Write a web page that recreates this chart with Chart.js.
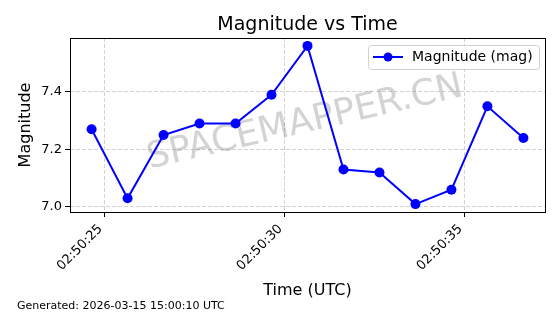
<!DOCTYPE html>
<html>
<head>
<meta charset="utf-8">
<script src="https://cdn.jsdelivr.net/npm/chart.js@4/dist/chart.umd.min.js"></script>
<style>
  html, body { margin: 0; padding: 0; background: #fff; }
  #wrap { width: 560px; height: 314px; position: relative; }
</style>
</head>
<body>
<div id="wrap"><canvas id="c" width="560" height="314"></canvas></div>
<script>
// Seconds past 02:50:00 UTC for each observation
const timeSeconds = [24.64, 25.64, 26.64, 27.64, 28.64, 29.64, 30.64, 31.64, 32.64, 33.64, 34.64, 35.64, 36.64];
const magnitudes  = [7.27, 7.03, 7.25, 7.29, 7.29, 7.39, 7.56, 7.13, 7.12, 7.01, 7.06, 7.35, 7.24];
const xTickValues = [25, 30, 35];
const xTickLabels = ['02:50:25', '02:50:30', '02:50:35'];
const yTickValues = [7.0, 7.2, 7.4];
const titleText = 'Magnitude vs Time';
const xTitle = 'Time (UTC)';
const yTitle = 'Magnitude';
const seriesLabel = 'Magnitude (mag)';
const footerText = 'Generated: 2026-03-15 15:00:10 UTC';
const watermarkText = 'SPACEMAPPER.CN';

const FONT = '"DejaVu Sans", sans-serif';
const points = timeSeconds.map((t, i) => ({ x: t, y: magnitudes[i] }));

function margins(arr) {
  const lo = Math.min(...arr), hi = Math.max(...arr), r = hi - lo;
  return [lo - 0.05 * r, hi + 0.05 * r];
}
const [xMin, xMax] = margins(timeSeconds);
const [yMin, yMax] = margins(magnitudes);

const decor = {
  id: 'decor',
  beforeDatasetsDraw(chart) {
    const ctx = chart.ctx;
    const a = chart.chartArea;
    // watermark
    ctx.save();
    ctx.beginPath();
    ctx.rect(a.left, a.top, a.right - a.left, a.bottom - a.top);
    ctx.clip();
    ctx.translate(305, 123);
    ctx.rotate(-13 * Math.PI / 180);
    ctx.font = '36px ' + FONT;
    ctx.fillStyle = 'rgba(128,128,128,0.35)';
    ctx.textAlign = 'center';
    ctx.textBaseline = 'middle';
    ctx.fillText(watermarkText, 0, 0);
    ctx.restore();
  },
  afterDraw(chart) {
    const ctx = chart.ctx;
    const a = chart.chartArea;
    const xs = chart.scales.x;
    ctx.save();
    // frame
    ctx.strokeStyle = '#000';
    ctx.lineWidth = 1;
    ctx.strokeRect(Math.round(a.left) + 0.5, Math.round(a.top) + 0.5,
                   Math.round(a.right - a.left), Math.round(a.bottom - a.top));
    // x tick labels (rotated, right-anchored at the tick)
    ctx.fillStyle = '#000';
    ctx.font = '13px ' + FONT;
    ctx.textAlign = 'right';
    ctx.textBaseline = 'middle';
    xTickValues.forEach((v, i) => {
      const px = xs.getPixelForValue(v);
      ctx.save();
      ctx.translate(px - 4, a.bottom + 15);
      ctx.rotate(-Math.PI / 4);
      ctx.fillText(xTickLabels[i], 0, 0);
      ctx.restore();
    });
    // title
    ctx.textAlign = 'center';
    ctx.textBaseline = 'alphabetic';
    ctx.font = '19px ' + FONT;
    ctx.fillText(titleText, (a.left + a.right) / 2, 30);
    // x title
    ctx.font = '16px ' + FONT;
    ctx.fillText(xTitle, (a.left + a.right) / 2, 295);
    // y title
    ctx.save();
    ctx.translate(30, (a.top + a.bottom) / 2);
    ctx.rotate(-Math.PI / 2);
    ctx.fillText(yTitle, 0, 0);
    ctx.restore();
    // footer
    ctx.font = '11px ' + FONT;
    ctx.textAlign = 'left';
    ctx.fillText(footerText, 17, 309);
    // legend
    const lx = 368, ly = 45, lw = 171, lh = 24;
    ctx.beginPath();
    ctx.roundRect(lx + 0.5, ly + 0.5, lw, lh, 3);
    ctx.fillStyle = 'rgba(255,255,255,0.8)';
    ctx.fill();
    ctx.strokeStyle = '#d0d0d0';
    ctx.stroke();
    ctx.strokeStyle = '#0000ff';
    ctx.lineWidth = 2;
    ctx.beginPath();
    ctx.moveTo(373, 57);
    ctx.lineTo(403, 57);
    ctx.stroke();
    ctx.beginPath();
    ctx.arc(388, 57, 4.5, 0, Math.PI * 2);
    ctx.fillStyle = '#0000ff';
    ctx.fill();
    ctx.fillStyle = '#000';
    ctx.font = '14px ' + FONT;
    ctx.textBaseline = 'middle';
    ctx.fillText(seriesLabel, 412, 57);
    ctx.restore();
  }
};

new Chart(document.getElementById('c'), {
  type: 'line',
  data: {
    datasets: [{
      label: seriesLabel,
      data: points,
      borderColor: '#0000ff',
      backgroundColor: '#0000ff',
      borderWidth: 2,
      pointRadius: 5,
      pointHoverRadius: 5,
      pointBackgroundColor: '#0000ff',
      pointBorderColor: '#0000ff',
      pointBorderWidth: 0,
      tension: 0,
      fill: false
    }]
  },
  options: {
    responsive: false,
    animation: false,
    events: [],
    layout: { padding: { left: 0, right: 15, top: 38, bottom: 0 } },
    plugins: { legend: { display: false }, title: { display: false }, tooltip: { enabled: false } },
    scales: {
      x: {
        type: 'linear',
        min: xMin,
        max: xMax,
        afterBuildTicks(s) { s.ticks = xTickValues.map(v => ({ value: v })); },
        afterFit(s) { s.height = 102; },
        ticks: { display: false },
        grid: {
          color: 'rgba(176,176,176,0.7)',
          lineWidth: 0.8,
          drawTicks: true,
          tickLength: 5,
          tickColor: '#000',
          tickWidth: 1,
          tickBorderDash: []
        },
        border: { display: false, dash: [4, 2] }
      },
      y: {
        type: 'linear',
        min: yMin,
        max: yMax,
        afterBuildTicks(s) { s.ticks = yTickValues.map(v => ({ value: v })); },
        afterFit(s) { s.width = 70; },
        ticks: {
          color: '#000',
          font: { family: FONT, size: 13 },
          padding: 3,
          callback(v) { return Number(v).toFixed(1); }
        },
        grid: {
          color: 'rgba(176,176,176,0.7)',
          lineWidth: 0.8,
          drawTicks: true,
          tickLength: 5,
          tickColor: '#000',
          tickWidth: 1,
          tickBorderDash: []
        },
        border: { display: false, dash: [4, 2] }
      }
    }
  },
  plugins: [decor]
});
</script>
</body>
</html>
